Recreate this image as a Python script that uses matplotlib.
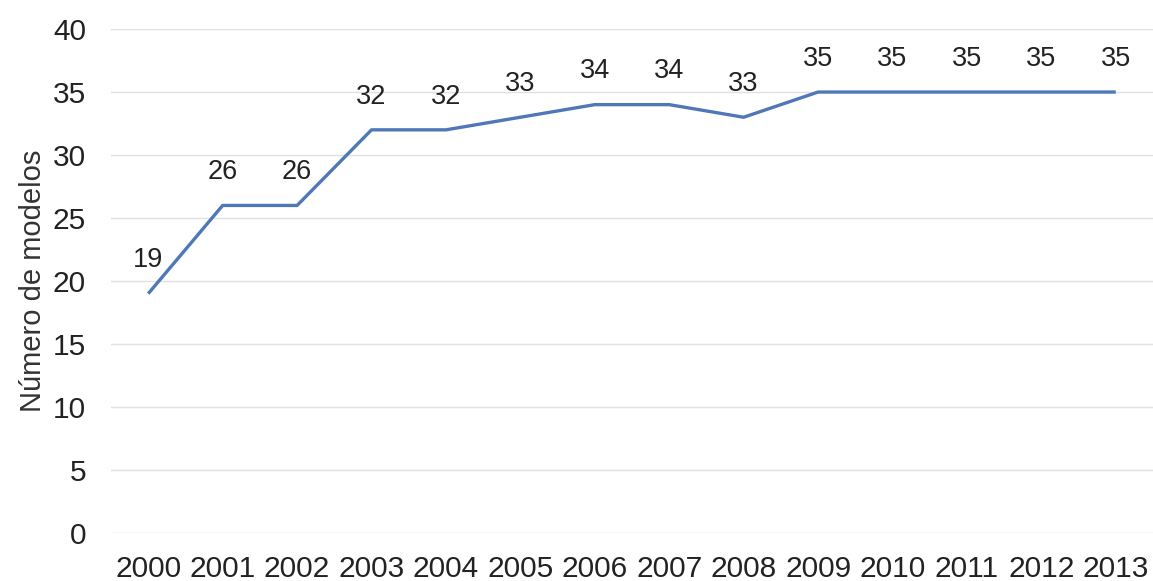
import matplotlib
matplotlib.use('Agg')
import matplotlib.pyplot as plt

# Models per year
years = [2000, 2001, 2002, 2003, 2004, 2005, 2006, 2007, 2008, 2009, 2010, 2011, 2012, 2013]
models = [19, 26, 26, 32, 32, 33, 34, 34, 33, 35, 35, 35, 35, 35]
y_ticks = [0, 5, 10, 15, 20, 25, 30, 35, 40]

plt.rcParams['font.family'] = ['Liberation Sans', 'DejaVu Sans']

fig = plt.figure(figsize=(11.53, 5.81), dpi=100)
ax = fig.add_axes([0.0963, 0.0826, 0.9037, 0.8674])

x = list(range(len(years)))
ax.plot(x, models, color='#4f78b8', linewidth=2.4, solid_capstyle='butt', zorder=3)

for xi, v in zip(x, models):
    ax.annotate(str(v), (xi, v), xytext=(0, 24), textcoords='offset points',
                ha='center', va='center', fontsize=19.5, color='#222222')

ax.set_xlim(-0.5, len(years) - 0.5)
ax.set_ylim(0, 40)
ax.set_yticks(y_ticks)
ax.set_xticks(x)
ax.set_xticklabels([str(y) for y in years])
ax.tick_params(axis='both', length=0, labelsize=21.5, colors='#222222')
ax.tick_params(axis='y', pad=18)
ax.tick_params(axis='x', pad=15.5)
ax.grid(axis='y', color='#e0e0e0', linewidth=1)
ax.set_axisbelow(True)
for s in ax.spines.values():
    s.set_visible(False)

ax.set_ylabel('Número de modelos', fontsize=21, color='#333333', labelpad=4)

fig.savefig('out.png', dpi=100)
